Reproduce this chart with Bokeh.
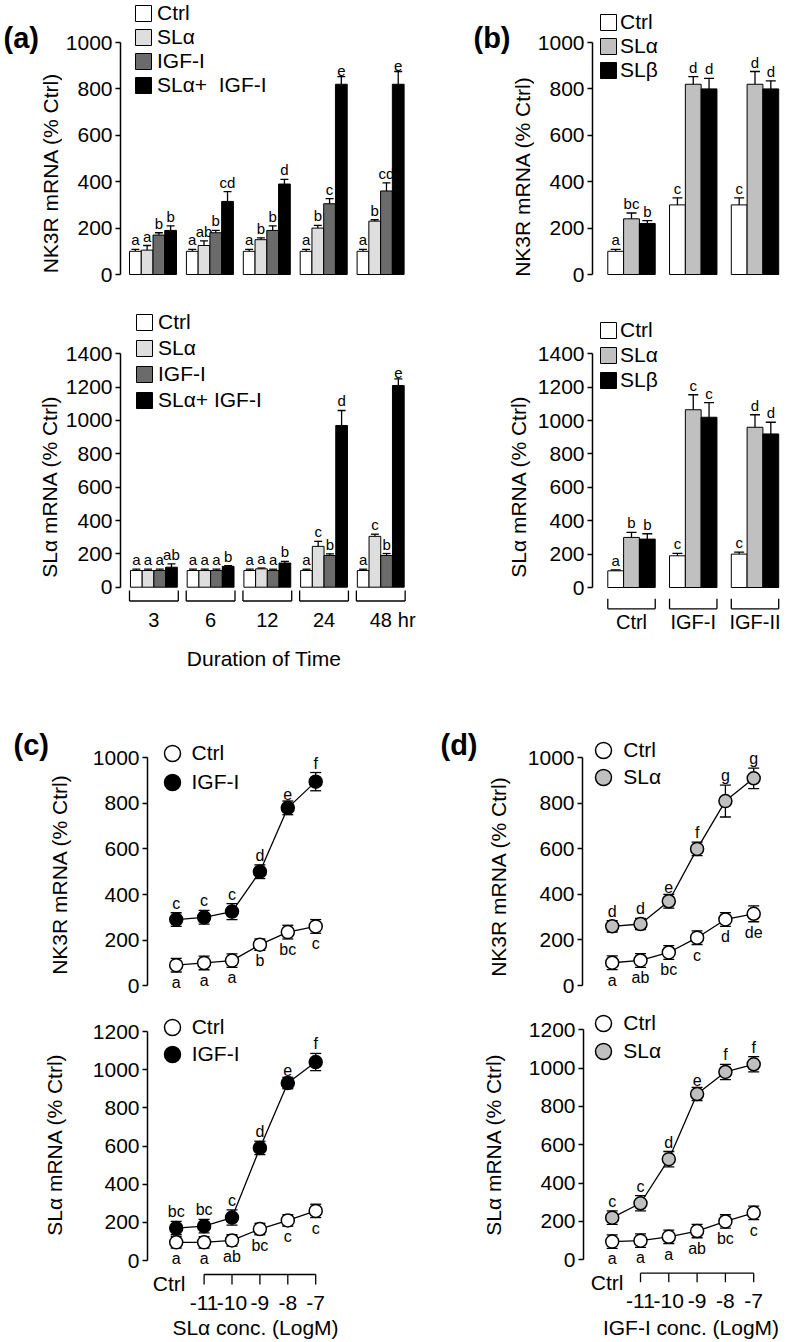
import math
from bokeh.plotting import figure
from bokeh.models import (Range1d, LinearAxis, FixedTicker, Whisker, TeeHead,
                          ColumnDataSource, Legend, LegendItem)
from bokeh.layouts import column, row
from bokeh.core.properties import value
from bokeh.embed import file_html
from bokeh.resources import INLINE

FONT = "Liberation Sans"

# ============================ DATA ============================
# ---- (a) time course (bars) ----
a_hours = ["3", "6", "12", "24", "48"]
a_hours_unit = "hr"
a_xlabel = "Duration of Time"
a_series_top = ["Ctrl", "SLα", "IGF-I", "SLα+  IGF-I"]
a_series_bottom = ["Ctrl", "SLα", "IGF-I", "SLα+ IGF-I"]
a_colors = ["#ffffff", "#dedede", "#6b6b6b", "#000000"]

a_nk3r_ctrl = [100, 100, 100, 100, 100]
a_nk3r_sla = [105, 125, 150, 200, 230]
a_nk3r_igf = [170, 180, 190, 305, 360]
a_nk3r_both = [190, 315, 390, 820, 820]
a_nk3r_ctrl_err = [8, 8, 8, 8, 8]
a_nk3r_sla_err = [20, 20, 8, 12, 6]
a_nk3r_igf_err = [10, 10, 20, 22, 35]
a_nk3r_both_err = [20, 42, 20, 33, 55]
a_nk3r_ctrl_sig = ["a", "a", "a", "a", "a"]
a_nk3r_sla_sig = ["a", "ab", "b", "b", "b"]
a_nk3r_igf_sig = ["b", "b", "b", "c", "cd"]
a_nk3r_both_sig = ["b", "cd", "d", "e", "e"]

a_sla_ctrl = [100, 100, 100, 100, 100]
a_sla_sla = [100, 100, 110, 245, 305]
a_sla_igf = [100, 100, 100, 190, 190]
a_sla_both = [120, 125, 145, 970, 1210]
a_sla_ctrl_err = [8, 8, 8, 8, 8]
a_sla_sla_err = [8, 8, 5, 30, 13]
a_sla_igf_err = [8, 8, 8, 10, 12]
a_sla_both_err = [20, 5, 10, 90, 40]
a_sla_ctrl_sig = ["a", "a", "a", "a", "a"]
a_sla_sla_sig = ["a", "a", "a", "c", "c"]
a_sla_igf_sig = ["a", "a", "a", "b", "b"]
a_sla_both_sig = ["ab", "b", "b", "d", "e"]

# ---- (b) treatments (bars) ----
b_groups = ["Ctrl", "IGF-I", "IGF-II"]
b_series = ["Ctrl", "SLα", "SLβ"]
b_colors = ["#ffffff", "#c0c0c0", "#000000"]

b_nk3r_ctrl = [100, 300, 300]
b_nk3r_sla = [240, 820, 820]
b_nk3r_slb = [220, 800, 800]
b_nk3r_ctrl_err = [8, 30, 30]
b_nk3r_sla_err = [25, 33, 55]
b_nk3r_slb_err = [12, 45, 35]
b_nk3r_ctrl_sig = ["a", "c", "c"]
b_nk3r_sla_sig = ["bc", "d", "d"]
b_nk3r_slb_sig = ["b", "d", "d"]

b_sla_ctrl = [100, 190, 200]
b_sla_sla = [300, 1065, 960]
b_sla_slb = [290, 1020, 920]
b_sla_ctrl_err = [5, 15, 12]
b_sla_sla_err = [30, 90, 75]
b_sla_slb_err = [32, 88, 70]
b_sla_ctrl_sig = ["a", "c", "c"]
b_sla_sla_sig = ["b", "c", "d"]
b_sla_slb_sig = ["b", "c", "d"]

# ---- (c) SLα dose response (lines) ----
conc_labels = ["Ctrl", "-11", "-10", "-9", "-8", "-7"]
c_xlabel = "SLα conc. (LogM)"
c_series = ["Ctrl", "IGF-I"]
c_colors = ["#ffffff", "#000000"]

c_nk3r_ctrl = [90, 100, 110, 180, 235, 260]
c_nk3r_igf = [290, 300, 325, 500, 780, 895]
c_nk3r_ctrl_err = [30, 30, 30, 25, 30, 30]
c_nk3r_igf_err = [30, 30, 35, 30, 30, 40]
c_nk3r_ctrl_sig = ["a", "a", "a", "b", "bc", "c"]
c_nk3r_igf_sig = ["c", "c", "c", "d", "e", "f"]

c_sla_ctrl = [95, 95, 105, 165, 210, 260]
c_sla_igf = [170, 180, 225, 590, 930, 1040]
c_sla_ctrl_err = [30, 30, 30, 30, 30, 35]
c_sla_igf_err = [35, 35, 40, 35, 30, 45]
c_sla_ctrl_sig = ["a", "a", "ab", "bc", "c", "c"]
c_sla_igf_sig = ["bc", "bc", "c", "d", "e", "f"]

# ---- (d) IGF-I dose response (lines) ----
d_xlabel = "IGF-I conc. (LogM)"
d_series = ["Ctrl", "SLα"]
d_colors = ["#ffffff", "#c0c0c0"]

d_nk3r_ctrl = [100, 110, 145, 210, 290, 315]
d_nk3r_sla = [260, 270, 370, 600, 810, 910]
d_nk3r_ctrl_err = [30, 30, 30, 30, 30, 35]
d_nk3r_sla_err = [25, 25, 30, 30, 70, 45]
d_nk3r_ctrl_sig = ["a", "ab", "bc", "c", "d", "de"]
d_nk3r_sla_sig = ["d", "d", "e", "f", "g", "g"]

d_sla_ctrl = [95, 100, 120, 150, 200, 245]
d_sla_sla = [220, 295, 525, 865, 980, 1020]
d_sla_ctrl_err = [35, 35, 35, 35, 35, 35]
d_sla_sla_err = [35, 40, 40, 35, 40, 40]
d_sla_ctrl_sig = ["a", "a", "a", "ab", "bc", "c"]
d_sla_sla_sig = ["c", "c", "d", "e", "f", "f"]

nk3r_title = "NK3R mRNA (% Ctrl)"
sla_title = "SLα mRNA (% Ctrl)"
nk3r_ticks = [0, 200, 400, 600, 800, 1000]
sla_ticks_ab = [0, 200, 400, 600, 800, 1000, 1200, 1400]
sla_ticks_cd = [0, 200, 400, 600, 800, 1000, 1200]

# ============================ LAYOUT (page px) ============================
SPLIT, RIGHT1 = 428, 787
R1, R2, R3, R4 = (0, 300), (300, 670), (670, 1000), (1000, 1342)
# fl/fr/ft/fb: frame edges; x0: page x of category 0; xu: px per category;
# y0: page y of value 0; yu: px per unit
S_a1 = dict(fl=120, fr=SPLIT, ft=R1[0], fb=R1[1], x0=152.5, xu=56.9, y0=274.0, yu=0.232)
S_a2 = dict(fl=119, fr=SPLIT, ft=R2[0], fb=R2[1], x0=152.5, xu=56.9, y0=586.7, yu=0.16671)
S_b1 = dict(fl=592, fr=RIGHT1, ft=R1[0], fb=R1[1], x0=631.0, xu=61.75, y0=274.0, yu=0.232)
S_b2 = dict(fl=592, fr=RIGHT1, ft=R2[0], fb=R2[1], x0=631.0, xu=61.75, y0=587.0, yu=0.1669)
S_c1 = dict(fl=147, fr=SPLIT, ft=R3[0], fb=R3[1], x0=175.7, xu=27.9, y0=985.2, yu=0.228)
S_c2 = dict(fl=147, fr=SPLIT, ft=R4[0], fb=R4[1], x0=175.7, xu=27.9, y0=1260.0, yu=0.19083)
S_d1 = dict(fl=582, fr=RIGHT1, ft=R3[0], fb=R3[1], x0=611.7, xu=28.3, y0=985.0, yu=0.2277)
S_d2 = dict(fl=583, fr=RIGHT1, ft=R4[0], fb=R4[1], x0=611.7, xu=28.3, y0=1259.3, yu=0.19167)


def PX(s, px):
    return (px - s["x0"]) / s["xu"]


def PY(s, py):
    return (s["y0"] - py) / s["yu"]


def base_fig(width, height, xr, yr, ml):
    p = figure(width=int(round(width)), height=int(round(height)),
               x_range=xr, y_range=yr, x_axis_type=None, y_axis_type=None,
               toolbar_location=None, tools="", output_backend="svg",
               min_border_left=int(round(ml)), min_border_right=0,
               min_border_top=0, min_border_bottom=0)
    p.outline_line_color = None
    p.background_fill_color = "white"
    p.border_fill_color = "white"
    return p


def make_fig(s, fig_left):
    xr = Range1d(PX(s, s["fl"]), PX(s, s["fr"]))
    yr = Range1d(PY(s, s["fb"]), PY(s, s["ft"]))
    return base_fig(s["fr"] - fig_left, s["fb"] - s["ft"], xr, yr, s["fl"] - fig_left)


def strip(left, right, rows, title, tx, ty, tag=None, gx=0, gy=0):
    """Narrow text-only figure holding the y-axis title and the panel tag."""
    top, bottom = rows
    p = base_fig(right - left, bottom - top, Range1d(left, right), Range1d(-bottom, -top), 0)
    p.text(x=[tx], y=[-ty], text=[title], angle=math.pi / 2, text_align="center",
           text_baseline="middle", text_font=value(FONT), text_font_size="21px",
           text_color="black")
    if tag:
        p.text(x=[gx], y=[-gy], text=[tag], text_align="left", text_baseline="middle",
               text_font=value(FONT), text_font_style=value("bold"),
               text_font_size="29px", text_color="black")
    return p


def add_yaxis(p, ticks):
    ax = LinearAxis(ticker=FixedTicker(ticks=ticks), bounds=(ticks[0], ticks[-1]),
                    major_tick_out=5, major_tick_in=0, minor_tick_out=0, minor_tick_in=0,
                    axis_line_width=1.5, axis_line_color="black",
                    major_tick_line_width=1.5, major_tick_line_color="black",
                    major_label_text_font=FONT, major_label_text_font_size="21px",
                    major_label_text_color="black", major_label_standoff=3)
    p.add_layout(ax, "left")


def bars(p, vals, errs, sigs, colors, bar_w, cap):
    n = len(vals)
    rends = []
    for k in range(n):
        xs = [g + (k - (n - 1) / 2) * bar_w for g in range(len(vals[k]))]
        ups = [v + e for v, e in zip(vals[k], errs[k])]
        src = ColumnDataSource(dict(x=xs, top=vals[k], up=ups, lab=sigs[k]))
        r = p.vbar(x="x", top="top", bottom=0, width=bar_w, source=src,
                   fill_color=colors[k], line_color="black", line_width=1)
        p.add_layout(Whisker(source=src, base="x", lower="top", upper="up", dimension="height",
                             line_color="black", line_width=1.3, lower_head=None,
                             upper_head=TeeHead(size=cap, line_color="black", line_width=1.3)))
        p.text(x="x", y="up", text="lab", source=src, text_align="center",
               text_baseline="bottom", y_offset=-1, text_font=value(FONT),
               text_font_size="15px", text_color="black")
        rends.append(r)
    return rends


def brackets(p, s, ngroups, hw, y_top, y_h, labels, lab_y, size):
    gx = list(range(ngroups))
    yt, yh = PY(s, y_top), PY(s, y_h)
    x0s = [g - hw for g in gx]
    x1s = [g + hw for g in gx]
    p.segment(x0=x0s, y0=[yh] * ngroups, x1=x1s, y1=[yh] * ngroups,
              line_color="black", line_width=1.3)
    ends = x0s + x1s
    p.segment(x0=ends, y0=[yh] * len(ends), x1=ends, y1=[yt] * len(ends),
              line_color="black", line_width=1.3)
    p.text(x=gx, y=[PY(s, lab_y)] * ngroups, text=labels, text_align="center",
           text_baseline="middle", text_font=value(FONT), text_font_size=size,
           text_color="black")


def lines(p, vals, errs, sigs, colors, above):
    rends = []
    for k in range(len(vals)):
        xs = list(range(len(vals[k])))
        lo = [v - e for v, e in zip(vals[k], errs[k])]
        hi = [v + e for v, e in zip(vals[k], errs[k])]
        src = ColumnDataSource(dict(x=xs, y=vals[k], lo=lo, hi=hi, lab=sigs[k]))
        p.line(x="x", y="y", source=src, line_color="black", line_width=1.3)
        p.add_layout(Whisker(source=src, base="x", lower="lo", upper="hi", dimension="height",
                             line_color="black", line_width=1.3, level="underlay",
                             lower_head=TeeHead(size=11, line_color="black", line_width=1.3),
                             upper_head=TeeHead(size=11, line_color="black", line_width=1.3)))
        r = p.scatter(x="x", y="y", source=src, marker="circle", size=13,
                      fill_color=colors[k], line_color="black", line_width=1.5)
        if above[k]:
            p.text(x="x", y="hi", text="lab", source=src, text_align="center",
                   text_baseline="bottom", y_offset=-1, text_font=value(FONT),
                   text_font_size="16px", text_color="black")
        else:
            p.text(x="x", y="lo", text="lab", source=src, text_align="center",
                   text_baseline="top", y_offset=2, text_font=value(FONT),
                   text_font_size="16px", text_color="black")
        rends.append(r)
    return rends


def conc_axis(p, s, labels, y_line, y_tick, lab_y, ctrl_y, ctrl_dx, title, tx, ty):
    n = len(labels)
    xs = list(range(1, n))
    yl, yt = PY(s, y_line), PY(s, y_tick)
    p.segment(x0=[xs[0]], y0=[yl], x1=[xs[-1]], y1=[yl], line_color="black", line_width=1.3)
    p.segment(x0=xs, y0=[yl] * len(xs), x1=xs, y1=[yt] * len(xs),
              line_color="black", line_width=1.3)
    p.text(x=xs, y=[PY(s, lab_y)] * len(xs), text=labels[1:], text_align="center",
           text_baseline="middle", text_font=value(FONT), text_font_size="21px",
           text_color="black")
    p.text(x=[0], y=[PY(s, ctrl_y)], text=[labels[0]], x_offset=ctrl_dx, text_align="center",
           text_baseline="middle", text_font=value(FONT), text_font_size="21px",
           text_color="black")
    p.text(x=[PX(s, tx)], y=[PY(s, ty)], text=[title], text_align="center",
           text_baseline="middle", text_font=value(FONT), text_font_size="21px",
           text_color="black")


def legend(p, names, rends, loc, glyph, label_h, standoff):
    leg = Legend(items=[LegendItem(label=t, renderers=[r]) for t, r in zip(names, rends)],
                 location=loc, orientation="vertical", glyph_width=glyph, glyph_height=glyph,
                 label_height=label_h, spacing=0, padding=0, margin=0,
                 label_standoff=standoff, border_line_color=None, background_fill_alpha=0,
                 label_text_font=FONT, label_text_font_size="21px", label_text_color="black")
    p.add_layout(leg)


def circle_legends(p, s, names, rends, centers, glyph=40):
    # one legend per entry so each marker sits at its own place
    for name, r, (cx, cy) in zip(names, rends, centers):
        legend(p, [name], [r], (cx - glyph / 2 - s["fl"], s["fb"] - (cy + glyph / 2)),
               glyph, 20, 0)


# ---------------- (a) top ----------------
sa1 = strip(0, 62, R1, nk3r_title, 50, 172.5, "(a)", 3, 37)
pa1 = make_fig(S_a1, 62)
add_yaxis(pa1, nk3r_ticks)
ra1 = bars(pa1, [a_nk3r_ctrl, a_nk3r_sla, a_nk3r_igf, a_nk3r_both],
           [a_nk3r_ctrl_err, a_nk3r_sla_err, a_nk3r_igf_err, a_nk3r_both_err],
           [a_nk3r_ctrl_sig, a_nk3r_sla_sig, a_nk3r_igf_sig, a_nk3r_both_sig],
           a_colors, 0.2065, 8)
legend(pa1, a_series_top, ra1, (133 - S_a1["fl"], S_a1["fb"] - 97), 20, 24, 4)

# ---------------- (a) bottom ----------------
sa2 = strip(0, 62, R2, sla_title, 49, 486)
pa2 = make_fig(S_a2, 62)
add_yaxis(pa2, sla_ticks_ab)
ra2 = bars(pa2, [a_sla_ctrl, a_sla_sla, a_sla_igf, a_sla_both],
           [a_sla_ctrl_err, a_sla_sla_err, a_sla_igf_err, a_sla_both_err],
           [a_sla_ctrl_sig, a_sla_sla_sig, a_sla_igf_sig, a_sla_both_sig],
           a_colors, 0.2065, 8)
legend(pa2, a_series_bottom, ra2, (133 - S_a2["fl"], S_a2["fb"] - 412.7), 20, 26, 4)
brackets(pa2, S_a2, len(a_hours), 0.43, 590, 600.5, a_hours, 619.5, "20px")
pa2.text(x=[len(a_hours) - 1], y=[PY(S_a2, 619.5)], text=[a_hours_unit], x_offset=17,
         text_align="left", text_baseline="middle", text_font=value(FONT),
         text_font_size="20px", text_color="black")
pa2.text(x=[PX(S_a2, 263)], y=[PY(S_a2, 658)], text=[a_xlabel], text_align="center",
         text_baseline="middle", text_font=value(FONT), text_font_size="21px",
         text_color="black")

# ---------------- (b) top ----------------
sb1 = strip(SPLIT, 534, R1, nk3r_title, 522, 176, "(b)", 473, 37)
pb1 = make_fig(S_b1, 534)
add_yaxis(pb1, nk3r_ticks)
rb1 = bars(pb1, [b_nk3r_ctrl, b_nk3r_sla, b_nk3r_slb],
           [b_nk3r_ctrl_err, b_nk3r_sla_err, b_nk3r_slb_err],
           [b_nk3r_ctrl_sig, b_nk3r_sla_sig, b_nk3r_slb_sig],
           b_colors, 0.256, 10)
legend(pb1, b_series, rb1, (598 - S_b1["fl"], S_b1["fb"] - 81.7), 20, 24, 2)

# ---------------- (b) bottom ----------------
sb2 = strip(SPLIT, 532, R2, sla_title, 518, 486)
pb2 = make_fig(S_b2, 532)
add_yaxis(pb2, sla_ticks_ab)
rb2 = bars(pb2, [b_sla_ctrl, b_sla_sla, b_sla_slb],
           [b_sla_ctrl_err, b_sla_sla_err, b_sla_slb_err],
           [b_sla_ctrl_sig, b_sla_sla_sig, b_sla_slb_sig],
           b_colors, 0.256, 10)
legend(pb2, b_series, rb2, (598 - S_b2["fl"], S_b2["fb"] - 392.5), 20, 25, 2)
brackets(pb2, S_b2, len(b_groups), 0.384, 598.3, 608.3, b_groups, 621, "20px")

# ---------------- (c) top ----------------
sc1 = strip(0, 74, R3, nk3r_title, 59, 874, "(c)", 13, 744)
pc1 = make_fig(S_c1, 74)
add_yaxis(pc1, nk3r_ticks)
rc1 = lines(pc1, [c_nk3r_ctrl, c_nk3r_igf], [c_nk3r_ctrl_err, c_nk3r_igf_err],
            [c_nk3r_ctrl_sig, c_nk3r_igf_sig], c_colors, [False, True])
circle_legends(pc1, S_c1, c_series, rc1, [(171.5, 753.3), (171.5, 781.7)])

# ---------------- (c) bottom ----------------
sc2 = strip(0, 74, R4, sla_title, 54, 1144)
pc2 = make_fig(S_c2, 74)
add_yaxis(pc2, sla_ticks_cd)
rc2 = lines(pc2, [c_sla_ctrl, c_sla_igf], [c_sla_ctrl_err, c_sla_igf_err],
            [c_sla_ctrl_sig, c_sla_igf_sig], c_colors, [False, True])
circle_legends(pc2, S_c2, c_series, rc2, [(171.7, 1026.7), (171.7, 1054)])
conc_axis(pc2, S_c2, conc_labels, 1274, 1284, 1302, 1283.3, -7, c_xlabel, 255, 1327)

# ---------------- (d) top ----------------
sd1 = strip(SPLIT, 512, R3, nk3r_title, 497.5, 876, "(d)", 440, 744)
pd1 = make_fig(S_d1, 512)
add_yaxis(pd1, nk3r_ticks)
rd1 = lines(pd1, [d_nk3r_ctrl, d_nk3r_sla], [d_nk3r_ctrl_err, d_nk3r_sla_err],
            [d_nk3r_ctrl_sig, d_nk3r_sla_sig], d_colors, [False, True])
circle_legends(pd1, S_d1, d_series, rd1, [(603.3, 750), (603.3, 776.7)])

# ---------------- (d) bottom ----------------
sd2 = strip(SPLIT, 512, R4, sla_title, 492.5, 1144)
pd2 = make_fig(S_d2, 512)
add_yaxis(pd2, sla_ticks_cd)
rd2 = lines(pd2, [d_sla_ctrl, d_sla_sla], [d_sla_ctrl_err, d_sla_sla_err],
            [d_sla_ctrl_sig, d_sla_sla_sig], d_colors, [False, True])
circle_legends(pd2, S_d2, d_series, rd2, [(603.3, 1023.3), (603.3, 1050.7)])
conc_axis(pd2, S_d2, conc_labels, 1272.7, 1281.7, 1300, 1281.7, -5, d_xlabel, 690.5, 1327)

layout = column(row(sa1, pa1, sb1, pb1), row(sa2, pa2, sb2, pb2),
                row(sc1, pc1, sd1, pd1), row(sc2, pc2, sd2, pd2))

open("out.html", "w").write(file_html(layout, INLINE, title="NK3R / SLα mRNA"))
